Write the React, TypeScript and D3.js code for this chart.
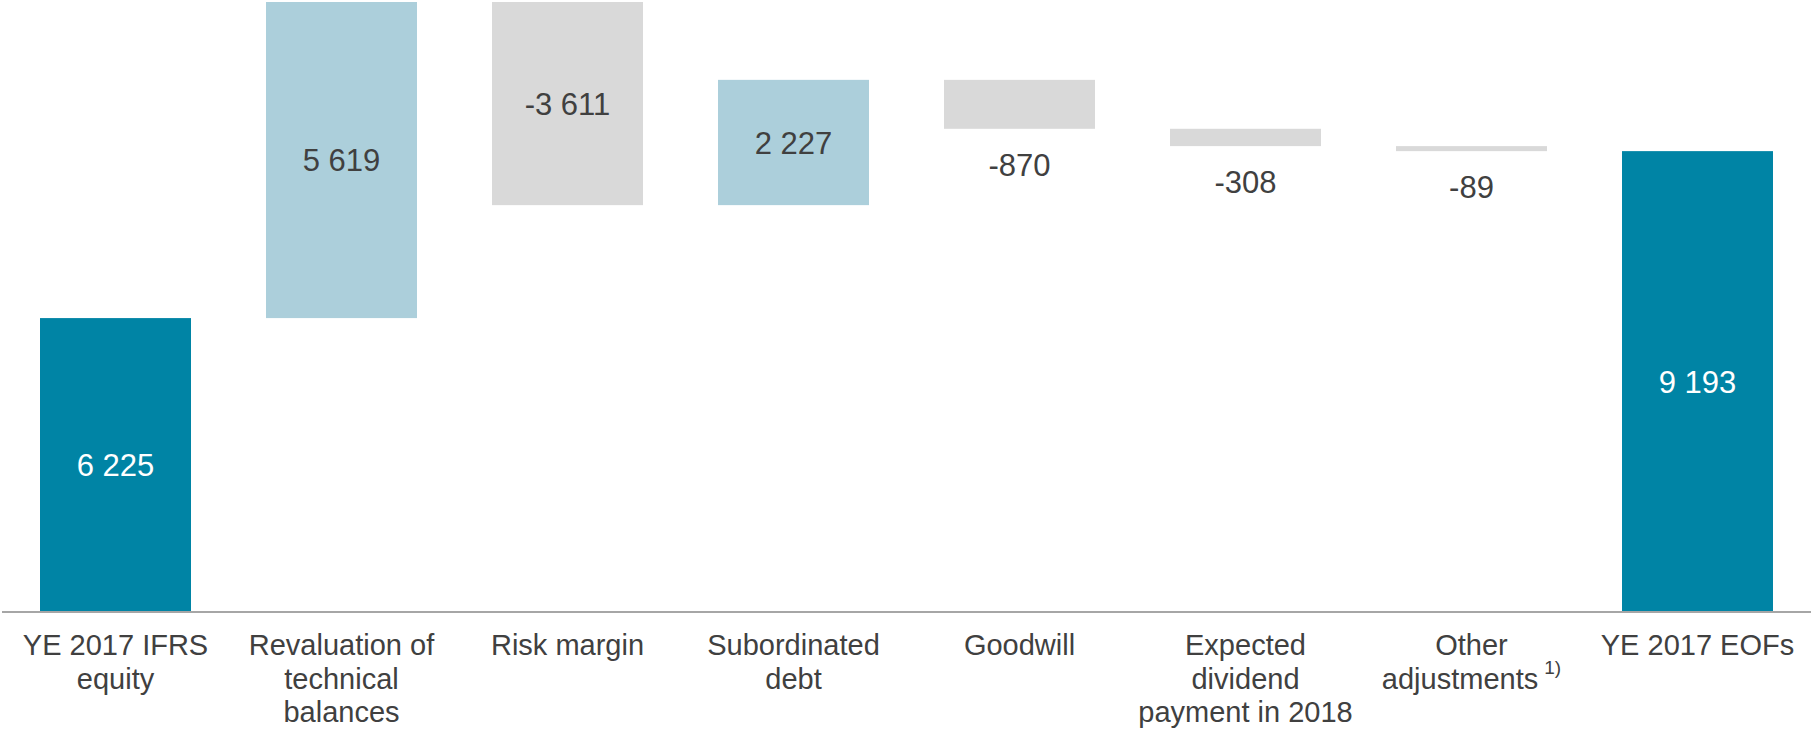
import React from "react";
import * as d3 from "d3";

const categories = [
  "YE 2017 IFRS equity",
  "Revaluation of technical balances",
  "Risk margin",
  "Subordinated debt",
  "Goodwill",
  "Expected dividend payment in 2018",
  "Other adjustments",
  "YE 2017 EOFs",
];
const categoryLines = [
  ["YE 2017 IFRS", "equity"],
  ["Revaluation of", "technical", "balances"],
  ["Risk margin"],
  ["Subordinated", "debt"],
  ["Goodwill"],
  ["Expected", "dividend", "payment in 2018"],
  ["Other", "adjustments"],
  ["YE 2017 EOFs"],
];
const footnotes = ["", "", "", "", "", "", "1)", ""];
const values = [6225, 5619, -3611, 2227, -870, -308, -89, 9193];
const kinds = ["total", "delta", "delta", "delta", "delta", "delta", "delta", "total"];
const axisBaseValue = 1000; // truncated axis start

const W = 1811;
const H = 731;
const AXIS_Y = 612;
const TOP_Y = 2;

const COLOR_TOTAL = "#0084a5";
const COLOR_POS = "#accfdb";
const COLOR_NEG = "#d9d9d9";
const TEXT = "#404040";
const FONT = "'Liberation Sans', Arial, Helvetica, sans-serif";

const fmt = d3
  .formatLocale({ decimal: ".", thousands: " ", grouping: [3], currency: ["", ""], minus: "-" })
  .format(",");

export default function App() {
  let running = 0;
  const segs = values.map((v, i) => {
    if (kinds[i] === "total") {
      running = v;
      return { i, lo: axisBaseValue, hi: v, v, kind: "total" };
    }
    const start = running;
    running = start + v;
    return { i, lo: Math.min(start, running), hi: Math.max(start, running), v, kind: v >= 0 ? "pos" : "neg" };
  });
  const maxVal = d3.max(segs, (s) => s.hi) as number;

  const x = d3
    .scaleBand<string>()
    .domain(categories)
    .range([2.5, 1810.5])
    .paddingInner(75 / 226)
    .paddingOuter(75 / 226 / 2);
  const y = d3.scaleLinear().domain([axisBaseValue, maxVal]).range([AXIS_Y, TOP_Y]);
  const bw = x.bandwidth();

  return (
    <svg
      width={W}
      height={H}
      style={{ position: "absolute", left: 0, top: 0, background: "#fff" }}
      fontFamily={FONT}
    >
      {segs.map((s) => {
        const cx = (x(categories[s.i]) as number) + bw / 2;
        const yTop = y(s.hi);
        const yBot = y(s.lo);
        const h = yBot - yTop;
        const fill = s.kind === "total" ? COLOR_TOTAL : s.kind === "pos" ? COLOR_POS : COLOR_NEG;
        const inside = h > 60;
        const labelY = inside ? (yTop + yBot) / 2 : yBot + 47;
        return (
          <g key={s.i}>
            <rect x={x(categories[s.i])} y={yTop} width={bw} height={h} fill={fill} />
            <text
              x={cx}
              y={labelY}
              dy={inside ? "0.36em" : 0}
              textAnchor="middle"
              fontSize={31}
              fill={s.kind === "total" ? "#ffffff" : TEXT}
            >
              {fmt(s.v)}
            </text>
          </g>
        );
      })}
      <line x1={2} x2={W} y1={AXIS_Y} y2={AXIS_Y} stroke="#a6a6a6" strokeWidth={2} />
      {categoryLines.map((lines, i) => {
        const cx = (x(categories[i]) as number) + bw / 2;
        return (
          <text key={i} x={cx} y={655} textAnchor="middle" fontSize={29} fill={TEXT}>
            {lines.map((ln, j) => (
              <tspan key={j} x={cx} y={655 + j * 33.5}>
                {ln}
                {footnotes[i] && j === lines.length - 1 ? (
                  <tspan fontSize={19} dx={6} dy={-15}>
                    {footnotes[i]}
                  </tspan>
                ) : null}
              </tspan>
            ))}
          </text>
        );
      })}
    </svg>
  );
}
